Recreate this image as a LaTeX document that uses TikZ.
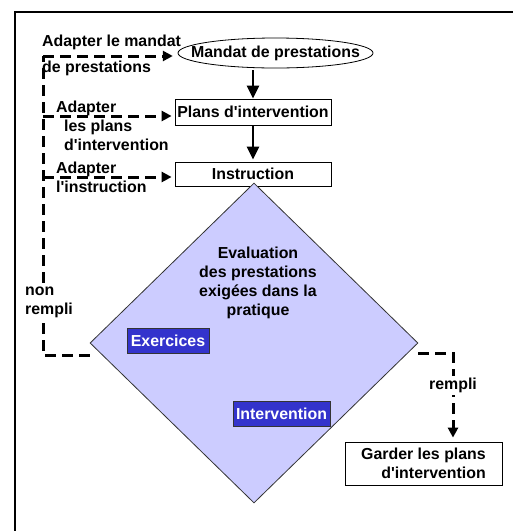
\documentclass[tikz,border=0pt]{standalone}
\usepackage{fontspec}
\setmainfont{Liberation Sans}[Ligatures=TeXOff]
\usetikzlibrary{arrows.meta, positioning, shapes.geometric}
\definecolor{evalfill}{HTML}{CCCCFF}
\definecolor{boxblue}{HTML}{3333CC}

\begin{document}
\begin{tikzpicture}[x=1pt, y=-1pt, node distance=62pt,
    every node/.style={font=\fontsize{15.9}{19}\selectfont\bfseries},
    box/.style={rectangle, draw, line width=0.8pt, minimum width=156pt, inner sep=0pt},
    bluebox/.style={rectangle, draw=black!80, line width=0.8pt, fill=boxblue, text=white, minimum height=25pt, inner sep=0pt},
    lbl/.style={inner sep=0pt, align=left, anchor=west},
    tip/.style={-{Triangle[width=10pt, length=10pt]}},
    flow/.style={-{Triangle[width=12pt, length=13pt]}, line width=2.5pt},
    ctrl/.style={line width=3pt, dash pattern=on 11pt off 6pt}]
    \useasboundingbox (0,0) rectangle (513,531);
    \draw[line width=1.8pt] (15,531) -- (15,12) -- (513,12);
    \node[rectangle, minimum width=195pt, minimum height=30pt, inner sep=0pt] (mandat) at (275.5,53) {Mandat de prestations};
    \draw[line width=0.8pt] (mandat.center) ellipse [x radius=97.5pt, y radius=15pt];
    \node[box, minimum height=26pt] (plans) at (253,112) {Plans d'intervention};
    \node[box, minimum height=24pt, below of=plans] (instr) {Instruction};
    \node[diamond, draw=black!80, line width=0.8pt, fill=evalfill, minimum width=328pt, minimum height=320pt, inner sep=0pt] (eval) at (254,343) {};
    \node[align=center, inner sep=0pt] (evaltxt) at (258,283) {Evaluation\\des prestations\\exigées dans la\\pratique};
    \node[bluebox, minimum width=82pt] (exo) at (168,340.5) {Exercices};
    \node[bluebox, minimum width=97pt] (interv) at (281.5,413.5) {Intervention};
    \node[box, minimum width=157pt, minimum height=43pt, align=right] (garder) at (423.5,463.5) {Garder les plans\\d'intervention};
    \coordinate (top) at (43,56);
    \coordinate (b1) at (43,116);
    \coordinate (b2) at (43,177);
    \coordinate (r) at (453,353);
    \draw[flow, shorten <=2pt] (mandat.south -| plans.north) to (plans.north);
    \draw[flow, shorten >=2pt] (plans) to (instr);
    \draw[ctrl] ([yshift=-12pt]eval.west) -| (top);
    \draw[ctrl, tip, shorten >=5pt] (top) to (top -| mandat.west);
    \draw[ctrl, tip, shorten >=3pt] (b1) to (b1 -| plans.west);
    \draw[ctrl, tip, shorten >=3pt] (b2) to (b2 -| instr.west);
    \draw[ctrl, tip, shorten >=4pt] ([yshift=-10pt]eval.east) -- (r) -- node[pos=0.37, fill=white, inner sep=2pt] (rempli) {rempli} (r |- garder.north);
    \node[lbl] (lblmandat) at (42,55.5) {Adapter le mandat\\[7pt]de prestations};
    \node[lbl] (lblplans) at (56,125.5) {Adapter\\\hspace*{8pt}les plans\\\hspace*{8pt}d'intervention};
    \node[lbl] (lblinstr) at (56,177) {Adapter\\l'instruction};
    \node[lbl, fill=white, inner sep=2pt] (nonrempli) at (23,302) {non\\rempli};
\end{tikzpicture}
\end{document}
